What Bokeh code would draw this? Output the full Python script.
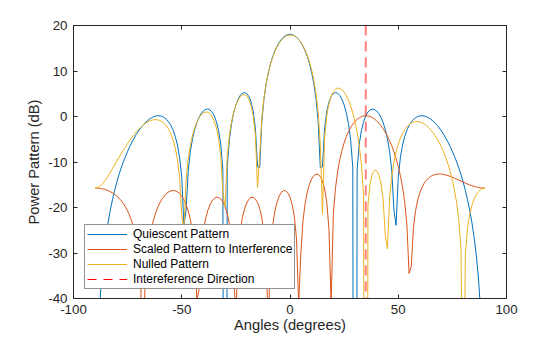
from bokeh.plotting import figure
from bokeh.models import Span, Legend, LegendItem, LinearAxis, FixedTicker, Range1d
from bokeh.embed import file_html
from bokeh.resources import INLINE

# Sample angles (degrees), one per integer degree
angles = list(range(-90, 91))

# Quiescent pattern (dB), -90 .. 90
quiescent = [
    -300, -54.4, -42.32, -35.28, -30.28, -26.41, -23.25, -20.58, -18.27, -16.24,
    -14.43, -12.79, -11.33, -9.99, -8.80, -7.64, -6.62, -5.62, -4.77, -3.94,
    -3.21, -2.55, -1.94, -1.43, -0.98, -0.60, -0.29, -0.05, 0.10, 0.17,
    0.14, 0.00, -0.26, -0.66, -1.23, -1.97, -3.01, -4.38, -6.25, -8.97,
    -13.37, -23.90, -20.58, -11.88, -7.63, -4.84, -2.82, -1.32, -0.18, 0.66,
    1.23, 1.55, 1.63, 1.45, 0.98, 0.16, -1.12, -3.04, -6.08, -11.71,
    -300, -11.21, -5.09, -1.56, 0.83, 2.55, 3.78, 4.62, 5.11, 5.26,
    5.05, 4.41, 3.21, 1.18, -2.45, -11.07, -11.27, -0.97, 3.93, 7.21,
    9.66, 11.59, 13.14, 14.41, 15.44, 16.28, 16.94, 17.44, 17.79, 17.99,
    18.06,
    17.99, 17.79, 17.44, 16.94, 16.28, 15.44, 14.41, 13.14, 11.59, 9.66,
    7.21, 3.93, -0.97, -11.27, -11.07, -2.45, 1.18, 3.21, 4.41, 5.05,
    5.26, 5.11, 4.62, 3.78, 2.55, 0.83, -1.56, -5.09, -11.21, -300,
    -11.71, -6.08, -3.04, -1.12, 0.16, 0.98, 1.45, 1.63, 1.55, 1.23,
    0.66, -0.18, -1.32, -2.82, -4.84, -7.63, -11.88, -20.58, -23.90, -13.37,
    -8.97, -6.25, -4.38, -3.01, -1.97, -1.23, -0.66, -0.26, 0.00, 0.14,
    0.17, 0.10, -0.05, -0.29, -0.60, -0.98, -1.43, -1.94, -2.55, -3.21,
    -3.94, -4.77, -5.62, -6.62, -7.64, -8.80, -9.99, -11.33, -12.79, -14.43,
    -16.24, -18.27, -20.58, -23.25, -26.41, -30.28, -35.28, -42.32, -54.4, -300,
]

# Scaled pattern to interference (dB), -90 .. 90
scaled = [
    -15.72, -15.73, -15.77, -15.85, -15.96, -16.11, -16.29, -16.52, -16.79, -17.11,
    -17.50, -17.95, -18.49, -19.12, -19.86, -20.76, -21.84, -23.17, -24.86, -27.10,
    -30.30, -35.72, -55.27, -37.55, -30.92, -27.20, -24.62, -22.67, -21.13, -19.89,
    -18.89, -18.07, -17.42, -16.92, -16.56, -16.35, -16.27, -16.33, -16.54, -16.92,
    -17.49, -18.27, -19.35, -20.78, -22.74, -25.52, -29.98, -40.28, -38.03, -29.25,
    -25.13, -22.52, -20.71, -19.44, -18.56, -18.01, -17.75, -17.78, -18.10, -18.76,
    -19.80, -21.35, -23.64, -27.27, -34.40, -44.31, -30.12, -25.14, -22.22, -20.30,
    -19.01, -18.20, -17.79, -17.76, -18.12, -18.90, -20.22, -22.30, -25.66, -32.17,
    -46.34, -29.18, -23.89, -20.83, -18.84, -17.51, -16.69, -16.31, -16.33, -16.79,
    -17.74,
    -19.36, -22.00, -26.75, -41.32, -30.10, -22.87, -19.06, -16.58, -14.88, -13.72,
    -12.99, -12.66, -12.72, -13.19, -14.20, -15.92, -18.88, -24.80, -41.52, -21.69,
    -15.78, -12.12, -9.48, -7.43, -5.79, -4.45, -3.35, -2.44, -1.69, -1.09,
    -0.62, -0.27, -0.03, 0.11, 0.16, 0.12, -0.02, -0.24, -0.55, -0.94,
    -1.43, -2.00, -2.67, -3.44, -4.32, -5.32, -6.45, -7.74, -9.23, -10.96,
    -13.03, -15.57, -18.91, -23.84, -34.51, -33.01, -24.53, -20.70, -18.34, -16.71,
    -15.53, -14.65, -14.00, -13.51, -13.15, -12.91, -12.74, -12.66, -12.63, -12.66,
    -12.74, -12.85, -12.99, -13.16, -13.35, -13.55, -13.77, -13.99, -14.20, -14.43,
    -14.64, -14.84, -15.03, -15.20, -15.35, -15.48, -15.58, -15.66, -15.70, -15.72,
]

# Nulled pattern (dB), -90 .. 90
nulled = [
    -15.72, -15.63, -15.38, -14.97, -14.44, -13.79, -13.07, -12.29, -11.48, -10.65,
    -9.81, -8.97, -8.17, -7.39, -6.66, -5.91, -5.23, -4.54, -3.96, -3.36,
    -2.84, -2.36, -1.92, -1.56, -1.26, -1.01, -0.84, -0.72, -0.68, -0.74,
    -0.89, -1.16, -1.56, -2.11, -2.85, -3.82, -5.14, -6.91, -9.42, -13.41,
    -21.83, -24.71, -13.92, -9.21, -6.22, -4.07, -2.45, -1.22, -0.29, 0.38,
    0.80, 0.99, 0.94, 0.63, 0.01, -0.99, -2.50, -4.80, -8.59, -16.82,
    -19.80, -8.86, -4.12, -1.13, 0.98, 2.51, 3.60, 4.33, 4.73, 4.79,
    4.49, 3.74, 2.40, 0.14, -4.01, -15.60, -8.62, -0.25, 4.21, 7.30,
    9.64, 11.51, 13.01, 14.25, 15.27, 16.10, 16.76, 17.26, 17.61, 17.83,
    17.92,
    17.87, 17.70, 17.38, 16.93, 16.32, 15.55, 14.59, 13.41, 11.99, 10.23,
    8.02, 5.13, 1.03, -6.16, -21.46, -4.51, 0.27, 2.86, 4.45, 5.44,
    6.00, 6.23, 6.18, 5.89, 5.37, 4.61, 3.61, 2.36, 0.81, -1.10,
    -3.47, -6.52, -10.70, -17.52, -300, -19.53, -14.69, -12.63, -11.81, -11.87,
    -12.73, -14.60, -18.09, -26.01, -29.11, -17.96, -13.11, -10.00, -7.76, -6.06,
    -4.75, -3.70, -2.88, -2.26, -1.77, -1.45, -1.23, -1.13, -1.12, -1.21,
    -1.39, -1.65, -2.00, -2.43, -2.93, -3.51, -4.18, -4.93, -5.81, -6.78,
    -7.86, -9.13, -10.48, -12.15, -13.99, -16.32, -19.04, -22.89, -29.24, -80.0,
    -30.13, -24.58, -21.55, -19.58, -18.21, -17.23, -16.54, -16.07, -15.81, -15.72,
]

interference_angle = 35
x_limits = (-100, 100)
y_limits = (-40, 20)
x_ticks = [-100, -50, 0, 50, 100]
y_ticks = [-40, -30, -20, -10, 0, 10, 20]
labels = ["Quiescent Pattern", "Scaled Pattern to Interference",
          "Nulled Pattern", "Intereference Direction"]

FONT = "Liberation Sans"
DARK = "#262626"

p = figure(width=560, height=337, output_backend="svg", toolbar_location=None,
           x_range=Range1d(*x_limits), y_range=Range1d(*y_limits),
           min_border_left=73, min_border_right=54, min_border_top=25,
           min_border_bottom=39)
p.background_fill_color = "white"
p.border_fill_color = "white"
p.outline_line_color = DARK
p.outline_line_width = 1
p.xgrid.visible = False
p.ygrid.visible = False

p.xaxis.ticker = FixedTicker(ticks=x_ticks)
p.yaxis.ticker = FixedTicker(ticks=y_ticks)
p.xaxis.major_label_overrides = {t: str(t) for t in x_ticks}
p.yaxis.major_label_overrides = {t: str(t) for t in y_ticks}
p.xaxis.axis_label = "Angles (degrees)"
p.yaxis.axis_label = "Power Pattern (dB)"

for ax in [p.xaxis[0], p.yaxis[0]]:
    ax.major_tick_in = 4
    ax.major_tick_out = 0
    ax.minor_tick_line_color = None
    ax.axis_line_color = DARK
    ax.major_tick_line_color = DARK
    ax.major_label_text_font = FONT
    ax.major_label_text_font_size = "13.3px"
    ax.major_label_text_color = DARK
    ax.axis_label_text_font = FONT
    ax.axis_label_text_font_size = "14.7px"
    ax.axis_label_text_font_style = "normal"
    ax.axis_label_text_color = DARK
    ax.major_label_standoff = 6
p.xaxis.axis_label_standoff = 0
p.yaxis.axis_label_standoff = 3

# mirrored tick marks on top and right
top_ax = LinearAxis(ticker=FixedTicker(ticks=x_ticks), major_tick_in=4, major_tick_out=0,
                    minor_tick_line_color=None, axis_line_color=DARK,
                    major_tick_line_color=DARK, major_label_text_color=None)
right_ax = LinearAxis(ticker=FixedTicker(ticks=y_ticks), major_tick_in=4, major_tick_out=0,
                      minor_tick_line_color=None, axis_line_color=DARK,
                      major_tick_line_color=DARK, major_label_text_color=None)
p.add_layout(top_ax, "above")
p.add_layout(right_ax, "right")

r_q = p.line(angles, quiescent, line_color="#0072BD", line_width=1)
r_s = p.line(angles, scaled, line_color="#D95319", line_width=1)
r_n = p.line(angles, nulled, line_color="#EDB120", line_width=1)

span = Span(location=interference_angle, dimension="height", line_color="red",
            line_alpha=0.5, line_width=2, line_dash="10 6")
p.add_layout(span)

# legend sample for the interference direction (no visible data)
nan = float("nan")
r_d = p.line([nan, nan], [nan, nan], line_color="red", line_width=1, line_dash="9 7")

legend = Legend(items=[LegendItem(label=labels[0], renderers=[r_q]),
                       LegendItem(label=labels[1], renderers=[r_s]),
                       LegendItem(label=labels[2], renderers=[r_n]),
                       LegendItem(label=labels[3], renderers=[r_d])],
                location=(11, 9), orientation="vertical",
                border_line_color=DARK, border_line_width=1,
                background_fill_color="white", background_fill_alpha=1,
                label_text_font=FONT, label_text_font_size="12px",
                label_text_color="black",
                glyph_width=40, glyph_height=14, label_height=14,
                spacing=1, padding=2, margin=0, label_standoff=6)
p.add_layout(legend)

open("out.html", "w").write(file_html(p, INLINE))
